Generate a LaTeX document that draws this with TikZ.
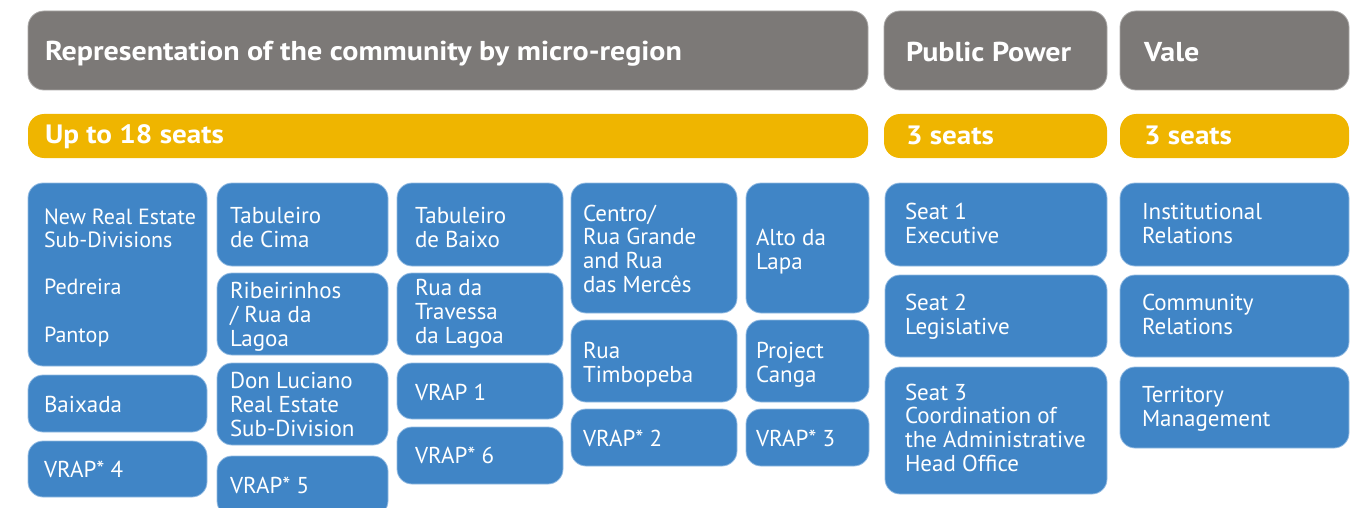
\documentclass[tikz,border=0pt]{standalone}
\usepackage{fontspec}
\setmainfont{PT Sans}[BoldFeatures={FakeStretch=1.1}]
\usetikzlibrary{positioning}

\definecolor{hgray}{HTML}{7C7977}
\definecolor{sgold}{HTML}{EFB500}
\definecolor{rblue}{HTML}{4085C6}
\definecolor{rline}{HTML}{93BBE2}

\begin{document}
\begin{tikzpicture}[
	x = 1pt, y = 1pt, % one unit is one pixel of the page
	outer sep = 0pt, % boxes touch the gap exactly
	inner sep = 0pt,
	H/.style={rounded corners=16pt, fill=hgray, draw=hgray!65!white, line width=.8pt, minimum height=79pt, anchor=north west},  %grey heads
	S/.style={rounded corners=16pt, fill=sgold, minimum height=44pt, anchor=north west},                                        %seat bars
	B/.style={rounded corners=15pt, fill=rblue, draw=rline, line width=.8pt},                                                    %blue boxes
	L/.style={anchor=base west, align=left, text=white, font=\fontsize{23}{23.6}\selectfont},  %base = last line
	T/.style={anchor=base west, text=white, font=\bfseries\fontsize{27.3}{30}\selectfont},
	W1/.style={minimum width=179pt}, W2/.style={minimum width=171pt}, W3/.style={minimum width=166pt},
	W4/.style={minimum width=166pt}, W5/.style={minimum width=123pt}, W6/.style={minimum width=222pt},
	W7/.style={minimum width=229pt},
	]
	\useasboundingbox (0,0) rectangle (1351,-508);
	\clip (0,0) rectangle (1351,-508);

	% Heads and seat bars
	\node[H, minimum width=840pt] (comm) at (28,-11) {};
	\node[H, minimum width=223pt] (pub)  at (884,-11) {};
	\node[H, minimum width=229pt] (vale) at (1120,-11) {};
	\node[S, minimum width=840pt] (commS) at (28,-114) {};
	\node[S, minimum width=223pt] (pubS)  at (884,-114) {};
	\node[S, minimum width=229pt] (valeS) at (1120,-114) {};

	\node[T] (commL) at (45,-61) {Representation of the community by micro-region};
	\node[T] (pubL)  at (906,-62) {Public Power};
	\node[T] (valeL) at (1144,-62) {Vale};
	\node[T, font=\bfseries\fontsize{26.5}{28}\selectfont] (commSL) at (45,-143) {Up to 18 seats};
	\node[T, font=\bfseries\fontsize{26.5}{28}\selectfont] (pubSL)  at (906,-144) {3 seats};
	\node[T, font=\bfseries\fontsize{26.5}{28}\selectfont] (valeSL) at (1144,-144) {3 seats};

	% Micro-region boxes, column by column
	\node[B, W1, minimum height=183pt, anchor=north west] (nres) at (28,-183) {};
	\node[B, W1, minimum height=57pt, below = 9pt of nres] (baix) {};
	\node[B, W1, minimum height=56pt, below = 9pt of baix] (vr4) {};

	\node[B, W2, minimum height=83pt, anchor=north west] (tcim) at (217,-183) {};
	\node[B, W2, minimum height=82pt, below = 7pt of tcim] (ribe) {};
	\node[B, W2, minimum height=82pt, below = 8pt of ribe] (dluc) {};
	\node[B, W2, minimum height=60pt, below = 11pt of dluc] (vr5) {};

	\node[B, W3, minimum height=83pt, anchor=north west] (tbai) at (397,-183) {};
	\node[B, W3, minimum height=82pt, below = 7pt of tbai] (rtra) {};
	\node[B, W3, minimum height=56pt, below = 8pt of rtra] (vr1) {};
	\node[B, W3, minimum height=57pt, below = 8pt of vr1] (vr6) {};

	\node[B, W4, minimum height=130pt, anchor=north west] (cent) at (571,-183) {};
	\node[B, W4, minimum height=82pt, below = 7pt of cent] (timb) {};
	\node[B, W4, minimum height=57pt, below = 7pt of timb] (vr2) {};

	\node[B, W5, minimum height=130pt, anchor=north west] (alto) at (746,-183) {};
	\node[B, W5, minimum height=82pt, below = 7pt of alto] (cang) {};
	\node[B, W5, minimum height=57pt, below = 7pt of cang] (vr3) {};

	% Public Power and Vale boxes
	\node[B, W6, minimum height=83pt, anchor=north west] (seat1) at (885,-183) {};
	\node[B, W6, minimum height=82pt, below = 9pt of seat1] (seat2) {};
	\node[B, W6, minimum height=127pt, below = 10pt of seat2] (seat3) {};

	\node[B, W7, minimum height=83pt, anchor=north west] (inst) at (1120,-183) {};
	\node[B, W7, minimum height=82pt, below = 9pt of inst] (cmty) {};
	\node[B, W7, minimum height=81pt, below = 10pt of cmty] (terr) {};

	% Labels, placed at the baseline of their last line
	\node[L, font=\fontsize{22}{23.6}\selectfont] (nresL) at (44,-342) {New Real Estate\\Sub-Divisions\\[23.6pt]Pedreira\\[23.6pt]Pantop};
	\node[L] (baixL) at (44,-412) {Baixada};
	\node[L] (vr4L)  at (44,-477) {VRAP* 4};
	\node[L] (tcimL) at (230,-247) {Tabuleiro\\de Cima};
	\node[L] (ribeL) at (230,-346) {Ribeirinhos\\/ Rua da\\Lagoa};
	\node[L] (dlucL) at (230,-436) {Don Luciano\\Real Estate\\Sub-Division};
	\node[L] (vr5L)  at (230,-493) {VRAP* 5};
	\node[L] (tbaiL) at (415,-247) {Tabuleiro\\de Baixo};
	\node[L] (rtraL) at (415,-343) {Rua da\\Travessa\\da Lagoa};
	\node[L] (vr1L)  at (415,-400) {VRAP 1};
	\node[L] (vr6L)  at (415,-463) {VRAP* 6};
	\node[L] (centL) at (583,-292) {Centro/\\Rua Grande\\and Rua\\das Mercês};
	\node[L] (timbL) at (583,-382) {Rua\\Timbopeba};
	\node[L] (vr2L)  at (583,-446) {VRAP* 2};
	\node[L] (altoL) at (756,-269) {Alto da\\Lapa};
	\node[L] (cangL) at (756,-382) {Project\\Canga};
	\node[L] (vr3L)  at (756,-446) {VRAP* 3};
	\node[L] (seat1L) at (905,-243) {Seat 1\\Executive};
	\node[L] (seat2L) at (905,-334) {Seat 2\\Legislative};
	\node[L] (seat3L) at (905,-471) {Seat 3\\Coordination of\\the Administrative\\Head Office};
	\node[L] (instL) at (1142,-243) {Institutional\\Relations};
	\node[L] (cmtyL) at (1142,-334) {Community\\Relations};
	\node[L] (terrL) at (1142,-426) {Territory\\Management};

\end{tikzpicture}
\end{document}
